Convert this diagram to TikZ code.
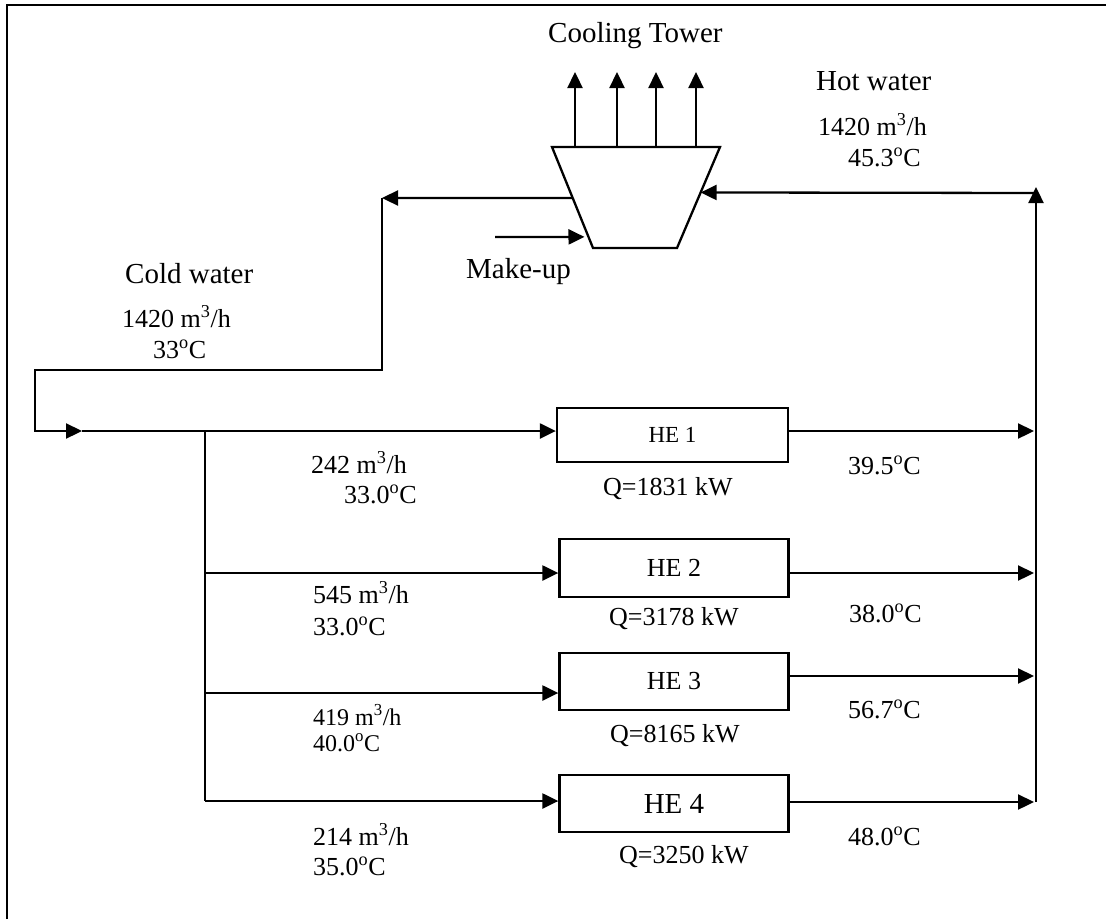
\documentclass[tikz,border=0pt]{standalone}
\usepackage{fontspec}
\setmainfont{Liberation Serif}
\usetikzlibrary{arrows.meta, positioning, calc}

\newcommand{\degC}{\textsuperscript{o}C}
\newcommand{\flowunit}{m\textsuperscript{3}/h}

\begin{document}
\begin{tikzpicture}[
      x=1pt, y=-1pt,
      pipe/.style={line width=2.3pt},
      flow/.style={pipe, -{Triangle[length=16pt, width=15pt]}},
      hebox/.style={draw, line width=2.3pt, minimum width=229pt, minimum height=57pt, inner sep=0pt},
      big/.style={font=\fontsize{29}{34}\selectfont},
      num/.style={font=\fontsize{26}{30}\selectfont},
      small/.style={font=\fontsize{24}{28}\selectfont},
      lbl/.style={anchor=base west, inner sep=0pt}
    ]
  \useasboundingbox (0,0) rectangle (1106,919);
  % frame
  \draw[pipe] (7,919) -- (7,5) -- (1106,5);

  % cooling tower
  \coordinate (tl) at (552,147);
  \coordinate (tr) at (720,147);
  \coordinate (br) at (677,248);
  \coordinate (bl) at (593,248);
  \draw[pipe] (tl) -- (tr) -- (br) -- (bl) -- cycle;
  \foreach \x in {575,617,656,696}
    \draw[flow] (\x,147) -- (\x,72);
  \coordinate (ctout) at ($(tl)!0.505!(bl)$);
  \coordinate (ctin) at ($(tr)!0.45!(br)$);
  \coordinate (mkin) at ($(tl)!0.89!(bl)$);
  \node[lbl, big] (ctlabel) at (548,42) {Cooling Tower};

  % make-up
  \coordinate (mk) at (495,237);
  \draw[flow, shorten >=4pt] (mk) -- (mkin);
  \node[lbl, big] (mklabel) at (466,278) {Make-up};

  % heat exchangers
  \node[hebox, minimum width=231pt, minimum height=54pt] (he1) at (672.5,435) {\fontsize{23}{27}\selectfont HE 1};
  \node[hebox, minimum height=58pt] (he2) at (674,568) {\fontsize{26}{30}\selectfont HE 2};
  \node[hebox] (he3) at (674,681.5) {\fontsize{26}{30}\selectfont HE 3};
  \node[hebox] (he4) at (674,803.5) {\fontsize{29}{34}\selectfont HE 4};

  % cold water loop
  \coordinate (c1) at (382,198);
  \coordinate (c2) at (35,370);
  \coordinate (c4) at (82,431);
  \draw[flow] (ctout) -- (c1);
  \draw[flow] (c1) |- (c2) |- (c4);
  \draw[flow] (c4) -- (c4 -| he1.west);

  % branches
  \coordinate (j1) at (205,431);
  \coordinate (j2) at (205,573);
  \coordinate (j3) at (205,693);
  \coordinate (j4) at (205,801);
  \draw[pipe] (j1) -- (j4);
  \draw[flow] (j2) -- (j2 -| he2.west);
  \draw[flow] (j3) -- (j3 -| he3.west);
  \draw[flow] (j4) -- (j4 -| he4.west);

  % hot water return
  \coordinate (r1) at (1034,431);
  \coordinate (r2) at (1034,573);
  \coordinate (r3) at (1034,676);
  \coordinate (r4) at (1034,802);
  \draw[flow] (r1 -| he1.east) -- (r1);
  \draw[flow] (r2 -| he2.east) -- (r2);
  \draw[flow] (r3 -| he3.east) -- (r3);
  \draw[flow] (r4 -| he4.east) -- (r4);
  \coordinate (rb) at (1036,802);
  \coordinate (rt) at (1036,187);
  \coordinate (hw) at (1036,193);
  \draw[flow] (rb) -- (rt);
  \draw[flow] (hw) -- (ctin);

  % labels
  \node[lbl, big] (cwlabel) at (125,283) {Cold water};
  \node[lbl, num] (cwflow) at (122,327) {1420 \flowunit};
  \node[lbl, num] (cwtemp) at (153,358) {33\degC};
  \node[lbl, big] (hwlabel) at (816,90) {Hot water};
  \node[lbl, num] (hwflow) at (818,135) {1420 \flowunit};
  \node[lbl, num] (hwtemp) at (848,166) {45.3\degC};

  \node[lbl, num] (f1) at (311,473) {242 \flowunit};
  \node[lbl, num] (t1) at (344,503) {33.0\degC};
  \node[lbl, num] (f2) at (313,603) {545 \flowunit};
  \node[lbl, num] (t2) at (313,635) {33.0\degC};
  \node[lbl, small] (f3) at (313,725) {419 \flowunit};
  \node[lbl, small] (t3) at (313,751) {40.0\degC};
  \node[lbl, num] (f4) at (313,845) {214 \flowunit};
  \node[lbl, num] (t4) at (313,875) {35.0\degC};

  \node[lbl, num] (q1) at (603,495) {Q=1831 kW};
  \node[lbl, num] (q2) at (609,625) {Q=3178 kW};
  \node[lbl, num] (q3) at (610,742) {Q=8165 kW};
  \node[lbl, num] (q4) at (619,863) {Q=3250 kW};

  \node[lbl, num] (o1) at (848,474) {39.5\degC};
  \node[lbl, num] (o2) at (849,622) {38.0\degC};
  \node[lbl, num] (o3) at (848,718) {56.7\degC};
  \node[lbl, num] (o4) at (848,845) {48.0\degC};
\end{tikzpicture}
\end{document}
